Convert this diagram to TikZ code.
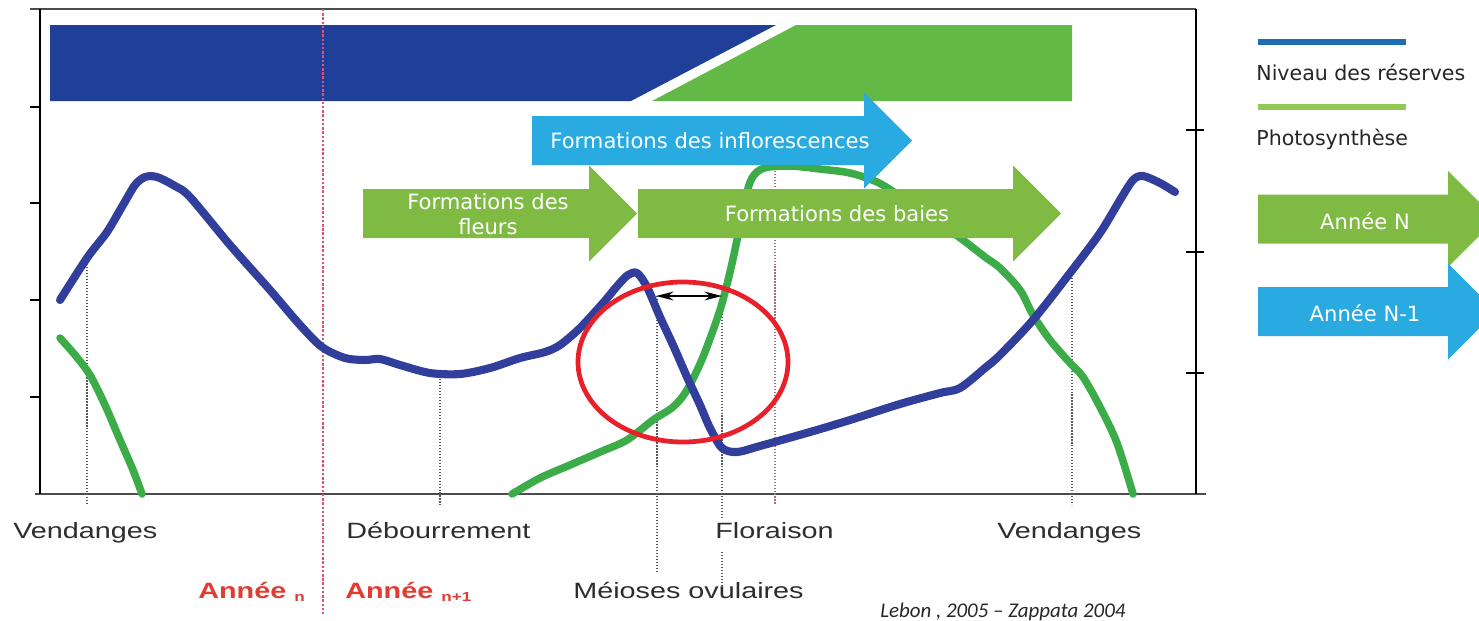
\documentclass[tikz,border=0pt]{standalone}
\usepackage{fontspec}
\setmainfont{DejaVu Sans}
\newfontfamily\arialfont[FakeStretch=1.3]{Liberation Sans}
\newfontfamily\sourcefont{Carlito}
\usetikzlibrary{arrows.meta}

\definecolor{bleuRes}{RGB}{31,63,153}
\definecolor{bleuCourbe}{RGB}{50,62,155}
\definecolor{vertBarre}{RGB}{99,185,70}
\definecolor{vertCourbe}{RGB}{60,172,72}
\definecolor{vertFleche}{RGB}{127,186,66}
\definecolor{bleuFleche}{RGB}{41,171,226}
\definecolor{rougeCercle}{RGB}{232,32,42}
\definecolor{rougeAnnee}{RGB}{224,60,49}
\definecolor{roseLigne}{RGB}{230,80,110}
\definecolor{bleuLegende}{RGB}{31,108,180}
\definecolor{vertLegende}{RGB}{146,201,83}
\definecolor{grisTexte}{RGB}{45,45,45}

\tikzset{
	axe/.style={black, line width=1.3pt},
	repere/.style={gray!70!black, densely dotted, line width=0.7pt},
	courbe/.style={line width=4.3pt, smooth, tension=0.5, line cap=round, line join=round},
	etiq/.style={white, font=\fontsize{12}{14.2}\selectfont, align=center, inner sep=0pt},
	stade/.style={grisTexte, font=\arialfont\fontsize{12.6}{14}\selectfont, anchor=base west, inner sep=0pt},
	annee/.style={rougeAnnee, font=\arialfont\bfseries\fontsize{12.6}{14}\selectfont, anchor=base west, inner sep=0pt},
	legende/.style={text=black!85, font=\fontsize{11.7}{14}\selectfont, anchor=base west, inner sep=0pt},
}

% big flat arrow: colour, x start, x of head, y centre
\newcommand{\fleche}[4]{%
	\fill[#1] (#2,#4-24.5) -- (#3,#4-24.5) -- (#3,#4-48) -- (#3+48,#4)
		-- (#3,#4+48) -- (#3,#4+24.5) -- (#2,#4+24.5) -- cycle;}
\newcommand{\indice}[1]{\raisebox{-2pt}{\fontsize{7.5}{8}\selectfont #1}}

\begin{document}
\begin{tikzpicture}[x=0.02cm, y=-0.02cm]
	\clip (0,0) rectangle (1479,620);

	% frame
	\draw[gray!60!black, line width=1pt] (30,9) -- (1196,9);
	\draw[gray!60!black, line width=1pt] (35,494) -- (1206,494);
	\draw[axe] (40,9) -- (40,494);
	\draw[axe] (1196,9) -- (1196,494);
	\foreach \y in {107,203,300,397}{
		\draw[axe, line width=0.9pt] (30,\y) -- (40,\y);
	}
	\foreach \y in {130,252,373}{
		\draw[axe, line width=0.9pt] (1186,\y) -- (1204,\y);
	}

	% bars
	\fill[bleuRes] (50,25) -- (776,25) -- (631,101) -- (50,101) -- cycle;
	\fill[vertBarre] (796,25) -- (1072,25) -- (1072,101) -- (652,101) -- cycle;

	% year limit
	\draw[roseLigne, densely dotted, line width=1.4pt] (323,9) -- (323,616);

	% stages
	\draw[repere] (87,258) -- (87,505);
	\draw[repere] (440,373) -- (440,505);
	\draw[repere] (657,296) -- (657,572);
	\draw[repere] (722,296) -- (722,520);
	\draw[repere] (722,552) -- (722,592);
	\draw[repere, roseLigne!40!gray] (775,150) -- (775,505);
	\draw[repere] (1072,275) -- (1072,505);

	% curves
	\draw[courbe, vertCourbe] plot coordinates {(60,338) (75,355) (90,375) (105,405)
		(120,440) (133,470) (142,494)};
	\draw[courbe, vertCourbe] plot coordinates {(512,494) (540,478) (570,465) (600,452)
		(627,440) (653,420) (673,407) (687,390) (703,357) (720,310) (730,272) (737,240)
		(745,200) (752,178) (764,168) (790,166) (820,169) (850,173) (877,182) (900,196)
		(930,216) (963,240) (985,257) (1000,268) (1020,290) (1033,315) (1050,340)
		(1070,363) (1083,377) (1100,407) (1117,443) (1133,494)};
	\draw[courbe, bleuCourbe, line width=4.6pt] plot coordinates {(60,300) (87,258) (107,232)
		(123,205) (135,185) (145,177) (157,177) (175,186) (190,197) (230,245) (270,290)
		(300,325) (322,347) (345,358) (365,360) (380,359) (400,365) (430,373) (460,374)
		(490,368) (520,358) (545,352) (560,345) (580,328) (603,303) (618,285) (628,275)
		(637,273) (647,287) (660,317) (673,345) (687,377) (700,405) (710,428) (722,448)
		(737,452) (760,446) (810,432) (850,420) (900,404) (940,393) (960,388) (985,368)
		(1000,355) (1033,320) (1070,273) (1100,233) (1120,200) (1133,180) (1143,176)
		(1160,183) (1175,192)};

	% phases
	\fleche{bleuFleche}{532}{864}{140.5}
	\fleche{vertFleche}{363}{589}{213.5}
	\fleche{vertFleche}{638}{1013}{213.5}
	\node[etiq] (inflo) at (710,141) {Formations des inflorescences};
	\node[etiq] (fleurs) at (488,214) {Formations des\\fleurs};
	\node[etiq] (baies) at (837,214) {Formations des baies};

	% critical window
	\draw[rougeCercle, line width=2.7pt] (683,362) ellipse [x radius=105, y radius=80];
	\coordinate (meiose) at (656,296);
	\coordinate (flor) at (722,296);
	\draw[black, line width=0.8pt, {Stealth[length=10pt, width=5pt]}-{Stealth[length=10pt, width=5pt]}] (meiose) -- (flor);

	% stage names
	\node[stade] (vend1) at (13,538) {Vendanges};
	\node[stade] (debour) at (346,538) {Débourrement};
	\node[stade] (florais) at (715,538) {Floraison};
	\node[stade] (vend2) at (997,538) {Vendanges};
	\node[stade] (meioses) at (573,598) {Méioses ovulaires};
	\node[annee] (anneeN) at (198,598) {Année \indice{n}};
	\node[annee] (anneeN1) at (345,598) {Année \indice{n+1}};
	\node[anchor=base west, inner sep=0pt, text=black!85, font=\sourcefont\itshape\fontsize{11.9}{13}\selectfont] (source) at (880,617) {Lebon , 2005 – Zappata 2004};

	% legend
	\draw[bleuLegende, line width=3.4pt] (1258,42) -- (1406,42);
	\node[legende] (legRes) at (1256,80) {Niveau des réserves};
	\draw[vertLegende, line width=3.4pt] (1258,107) -- (1406,107);
	\node[legende] (legPhoto) at (1256,145) {Photosynthèse};
	\fleche{vertFleche}{1258}{1448}{219}
	\fleche{bleuFleche}{1258}{1448}{311.5}
	\node[etiq] (legN) at (1365,221) {Année N};
	\node[etiq] (legN1) at (1365,313) {Année N-1};
\end{tikzpicture}
\end{document}
